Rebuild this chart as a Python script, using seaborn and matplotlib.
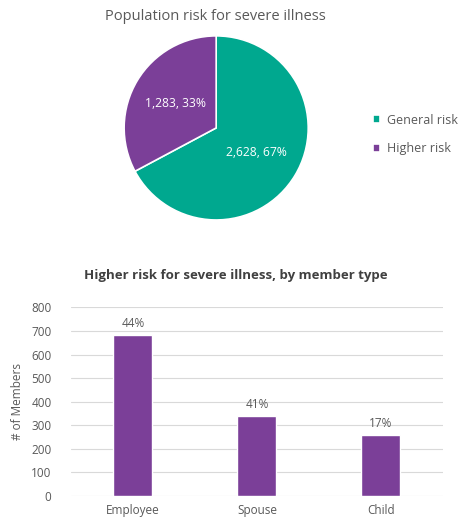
import matplotlib
matplotlib.use('Agg')
import matplotlib.pyplot as plt
import seaborn as sns
import pandas as pd
import numpy as np

# pie data
risk_labels = ['General risk', 'Higher risk']
risk_counts = [2628, 1283]
risk_colors = ['#00A88F', '#7B3F98']

# bar data
member_types = ['Employee', 'Spouse', 'Child']
member_counts = [683, 340, 260]
member_pcts = ['44%', '41%', '17%']

sns.set_theme(style='white')
plt.rcParams['font.family'] = ['Open Sans', 'DejaVu Sans']
gray = '#595959'

fig = plt.figure(figsize=(4.58, 5.2), dpi=100)

# pie
ax1 = fig.add_axes([0.271, 0.577, 0.402, 0.354])
total = sum(risk_counts)
wedges, _ = ax1.pie(risk_counts, colors=risk_colors, startangle=90, counterclock=False,
                    wedgeprops=dict(edgecolor='white', linewidth=1.2))
for w, c in zip(wedges, risk_counts):
    ang = np.deg2rad((w.theta1 + w.theta2) / 2)
    ax1.text(0.51 * np.cos(ang), 0.51 * np.sin(ang),
             f'{c:,}, {round(c / total * 100)}%', ha='center', va='center',
             color='white', fontsize=8.7)
ax1.set_xlim(-1, 1)
ax1.set_ylim(-1, 1)
ax1.set_aspect('equal')
fig.text(0.47, 0.968, 'Population risk for severe illness', ha='center', va='center',
         color=gray, fontsize=10.5)
ax1.legend(wedges, risk_labels, loc='center left', bbox_to_anchor=(1.29, 0.465), frameon=False,
           handlelength=0.6, handleheight=0.6, handletextpad=0.5, labelspacing=1.25,
           fontsize=9, labelcolor=gray)

# bars
ax2 = fig.add_axes([0.155, 0.046, 0.812, 0.363])
df = pd.DataFrame({'type': member_types, 'count': member_counts})
sns.barplot(data=df, x='type', y='count', color='#7B3F98', saturation=1, width=0.315, ax=ax2)
for i, (v, p) in enumerate(zip(member_counts, member_pcts)):
    ax2.text(i, v + 20, p, ha='center', va='bottom', color=gray, fontsize=8.5)
ax2.set_xlim(-0.5, 2.5)
ax2.set_ylim(0, 800)
ax2.set_yticks(range(0, 801, 100))
ax2.yaxis.grid(True, color='#d9d9d9', linewidth=0.8)
ax2.set_axisbelow(True)
for s in ax2.spines.values():
    s.set_visible(False)
ax2.set_xlabel('')
ax2.set_ylabel('# of Members', color=gray, fontsize=8.5, labelpad=5)
ax2.tick_params(axis='y', colors=gray, labelsize=8.5, length=0, pad=14)
ax2.tick_params(axis='x', colors=gray, labelsize=8.5, length=0, pad=6)
fig.text(0.515, 0.47, 'Higher risk for severe illness, by member type', ha='center',
         va='center', color='#404040', fontsize=9.5, fontweight='bold')

fig.savefig('out.png', dpi=100)
